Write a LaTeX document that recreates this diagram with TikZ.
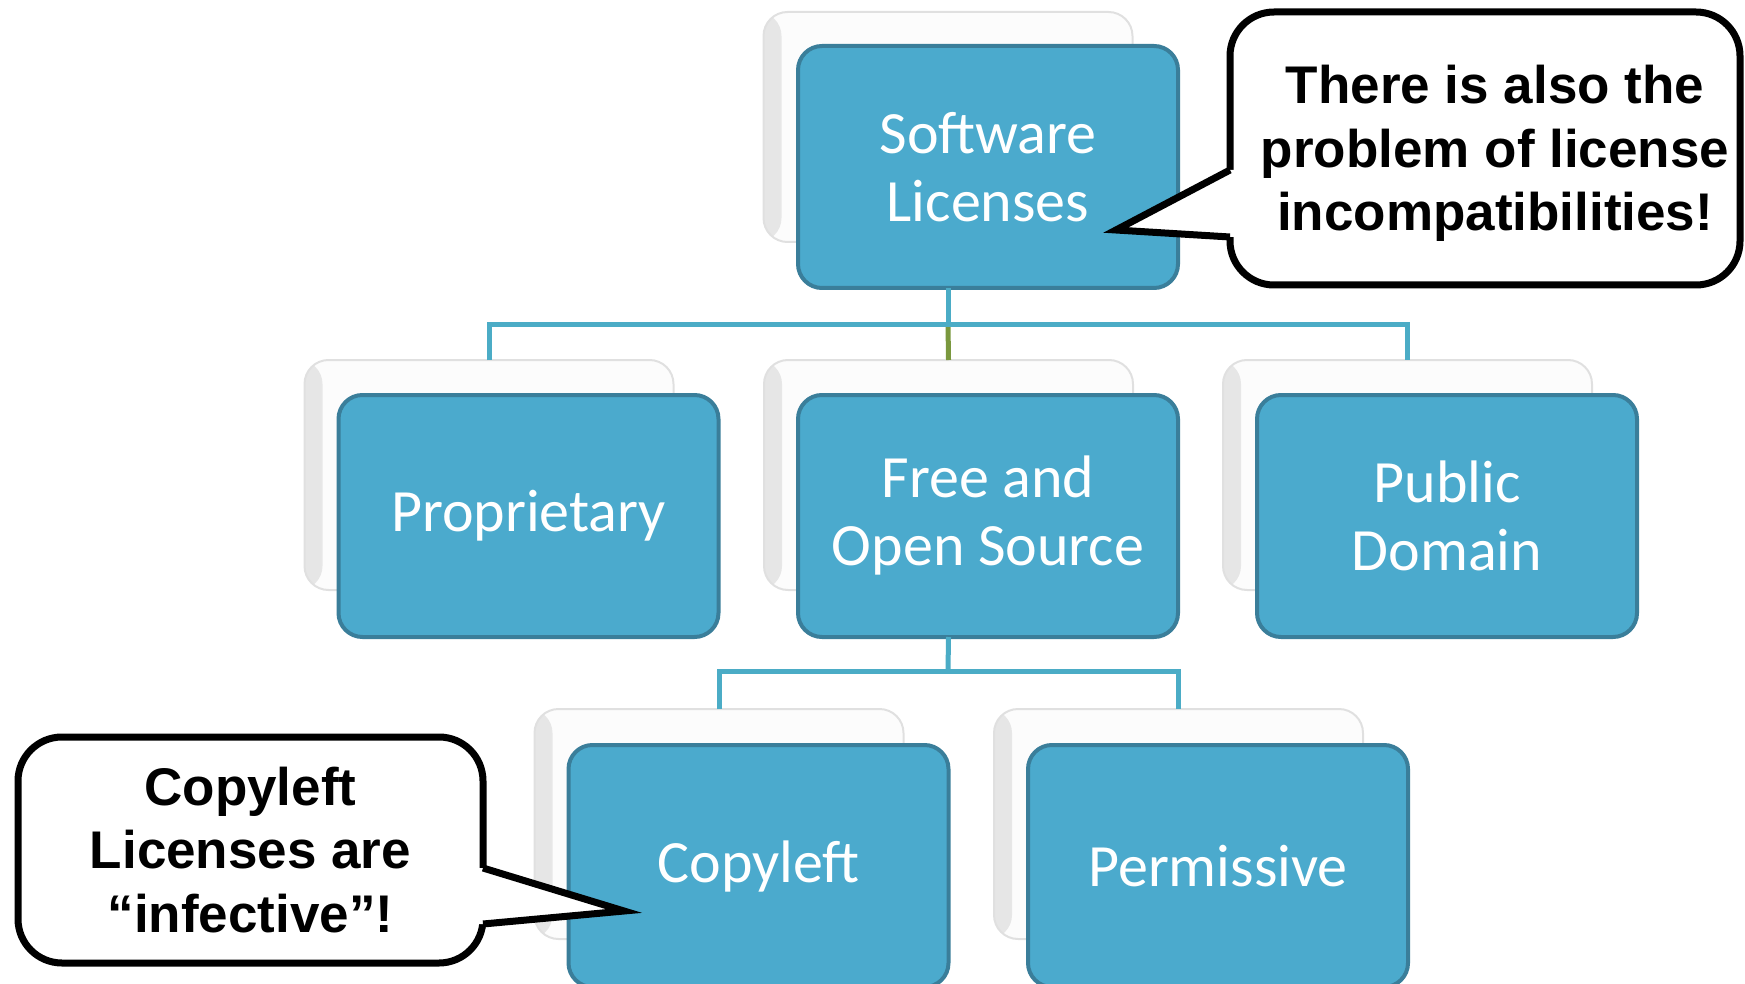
\documentclass[tikz,border=0pt]{standalone}
\usepackage{fontspec}
\setmainfont{Carlito}
\newfontfamily\calloutfont{Liberation Sans}
\usepackage{xcolor}
\usepackage{tikz}
\usetikzlibrary{positioning}

\definecolor{boxblue}{RGB}{75,170,205}
\definecolor{boxedge}{RGB}{58,126,154}
\definecolor{linkblue}{RGB}{75,172,198}
\definecolor{linkolive}{RGB}{122,152,62}

\tikzset{
	licbox/.style={rectangle,rounded corners=12pt,minimum width=190pt,minimum height=121pt,
		inner sep=0pt,outer sep=0pt,fill=boxblue,draw=boxedge,line width=2pt,
		text=white,align=center,font=\fontsize{30}{34}\selectfont},
	backbox/.style={rectangle,rounded corners=12pt,minimum width=184.5pt,minimum height=115pt,
		inner sep=0pt,outer sep=0pt,fill=black!1,draw=black!12,line width=1pt,
		path picture={\shade[left color=black!10,right color=black!1]
			(path picture bounding box.south west) rectangle ([xshift=9pt]path picture bounding box.north west);}},
	link/.style={draw=linkblue,line width=2.5pt},
	callout/.style={rectangle,rounded corners=22pt,draw=black,line width=3.5pt,fill=white,
		inner sep=0pt,outer sep=0pt},
	callouttext/.style={align=center,inner sep=0pt,
		font=\calloutfont\bfseries\fontsize{26.5}{31.7}\selectfont}
}

\begin{document}
\begin{tikzpicture}[x=0.5pt,y=-0.5pt]
	\useasboundingbox (0,0) rectangle (1745,984);
	% white cards behind
	\foreach \n/\x/\y in {swB/948/127, propB/489/475, fossB/948.5/475, pdB/1407.5/475, copyB/719/824, permB/1178.5/824}{
		\node[backbox] (\n) at (\x,\y) {};
	}
	% tree lines
	\coordinate (j1) at (948,324);
	\coordinate (j2) at (948,671);
	\draw[draw=linkolive,line width=2.5pt] (j1) -- (fossB.north);
	\draw[link] (propB.north) |- (j1) -| (pdB.north);
	\draw[link] (copyB.north) |- (j2) -| (permB.north);
	% blue boxes
	\node[licbox] (sw) at (988,167) {Software\\Licenses};
	\node[licbox] (prop) at (528.5,516) {Proprietary};
	\node[licbox] (foss) at (988,516) {Free and\\Open Source};
	\node[licbox] (pd) at (1447,516) {Public\\Domain};
	\node[licbox] (copy) at (758.5,866) {Copyleft};
	\node[licbox] (perm) at (1218,866) {Permissive};
	\draw[link] (sw.south -| swB.center) -- (j1);
	\draw[link] (foss.south -| fossB.center) -- (j2);
	% callouts
	\node[callout,minimum width=255pt,minimum height=136.5pt] (incompat) at (1485,148.5) {};
	\node[callouttext] (incompatText) at ([xshift=5pt,yshift=-2.5pt]incompat.center)
		{There is also the\\problem of license\\incompatibilities!};
	\coordinate (tipA) at (1116,230);
	\fill[white] (incompat.west |- 0,170) -- (tipA) -- (incompat.west |- 0,237) -- ++(8,0)
		-- ([xshift=4pt]incompat.west |- 0,170) -- cycle;
	\draw[line width=3.5pt] (incompat.west |- 0,170) -- (tipA) -- (incompat.west |- 0,237);
	\node[callout,minimum width=232.5pt,minimum height=113pt] (infect) at (250.5,850) {};
	\node[callouttext] (infectText) at (infect.center) {Copyleft\\Licenses are\\“infective”!};
	\coordinate (tipB) at (624,911);
	\fill[white] (infect.east |- 0,868) -- (tipB) -- (infect.east |- 0,924) -- ++(-8,0)
		-- ([xshift=-4pt]infect.east |- 0,868) -- cycle;
	\draw[line width=3.5pt] (infect.east |- 0,868) -- (tipB) -- (infect.east |- 0,924);
\end{tikzpicture}
\end{document}
